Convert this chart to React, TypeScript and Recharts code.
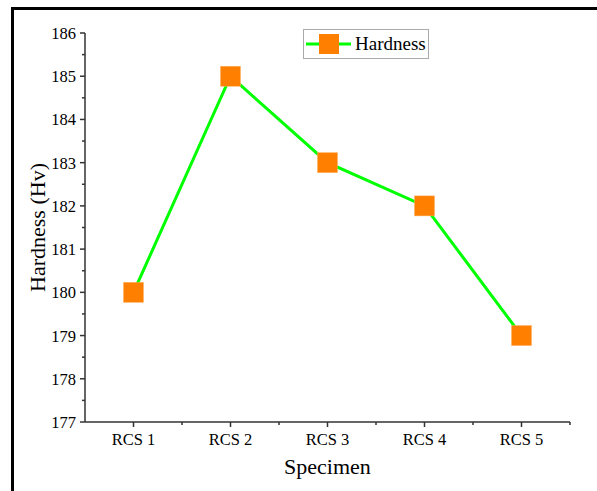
import React from "react";
import { LineChart, Line, XAxis, YAxis } from "recharts";

const specimens = ["RCS 1", "RCS 2", "RCS 3", "RCS 4", "RCS 5"];
const hardness = [180, 185, 183, 182, 179];
const yTicks = [177, 178, 179, 180, 181, 182, 183, 184, 185, 186];

const data = specimens.map((name, i) => ({ name, hardness: hardness[i] }));

const FONT = "Liberation Serif";
const AXIS = "#333";
const GREEN = "#00FF00";
const ORANGE = "#FF7F00";

const PLOT_TOP = 33;
const PLOT_BOTTOM = 422;
const HALF_STEP = (PLOT_BOTTOM - PLOT_TOP) / (yTicks.length - 1) / 2;

function XTick(props: any) {
    const { x, y, payload } = props;
    const half = payload && payload.offset ? payload.offset : 48.5;
    return (
        <g>
            <line x1={x} y1={y} x2={x} y2={y + 5} stroke={AXIS} strokeWidth={1.5} />
            <line x1={x + half} y1={y} x2={x + half} y2={y + 3} stroke={AXIS} strokeWidth={1.5} />
            <text x={x} y={y + 23} textAnchor="middle" style={{ fontFamily: FONT, fontSize: 16.5, fill: "#000" }}>
                {payload.value}
            </text>
        </g>
    );
}

function YTick(props: any) {
    const { x, y, payload } = props;
    return (
        <g>
            <line x1={x - 5} y1={y} x2={x} y2={y} stroke={AXIS} strokeWidth={1.5} />
            {payload.value < 186 && (
                <line x1={x - 3} y1={y - HALF_STEP} x2={x} y2={y - HALF_STEP} stroke={AXIS} strokeWidth={1.5} />
            )}
            <text x={x - 9} y={y + 6} textAnchor="end" style={{ fontFamily: FONT, fontSize: 16.5, fill: "#000" }}>
                {payload.value}
            </text>
        </g>
    );
}

function SquareDot(props: any) {
    const { cx, cy } = props;
    if (cx == null || cy == null) return null;
    return <rect x={cx - 10} y={cy - 10} width={20} height={20} fill={ORANGE} stroke="#FFB060" strokeWidth={0.5} />;
}

function LegendBox() {
    return (
        <div
            style={{
                position: "absolute",
                left: 303,
                top: 29,
                display: "flex",
                alignItems: "center",
                border: "1px solid #aaa",
                width: 126,
                height: 30,
                background: "#fff",
                boxSizing: "border-box",
            }}
        >
            <svg width={50} height={28}>
                <line x1={2} y1={14} x2={47} y2={14} stroke={GREEN} strokeWidth={3} />
                <rect x={15} y={4} width={20} height={20} fill={ORANGE} />
            </svg>
            <span style={{ fontFamily: FONT, fontSize: 19, color: "#000", marginLeft: 1 }}>Hardness</span>
        </div>
    );
}

export default function App() {
    return (
        <div style={{ position: "absolute", left: 0, top: 0, width: 597, height: 491, background: "#fff", overflow: "hidden" }}>
            <div
                style={{
                    position: "absolute",
                    left: 11,
                    top: 7,
                    width: 620,
                    height: 520,
                    borderLeft: "3px solid #000",
                    borderTop: "3px solid #000",
                }}
            />
            <div style={{ position: "absolute", left: 0, top: 0 }}>
                <LineChart
                    width={597}
                    height={491}
                    data={data}
                    margin={{ top: PLOT_TOP, right: 27, left: 25, bottom: 29 }}
                >
                    <XAxis
                        dataKey="name"
                        scale="band"
                        axisLine={{ stroke: AXIS, strokeWidth: 1.5 }}
                        tickLine={false}
                        tickSize={0}
                        tickMargin={0}
                        tick={<XTick />}
                        height={40}
                        interval={0}
                        label={{
                            value: "Specimen",
                            position: "insideBottom",
                            offset: -12,
                            style: { fontFamily: FONT, fontSize: 22, fill: "#000" },
                        }}
                    />
                    <YAxis
                        domain={[177, 186]}
                        ticks={yTicks}
                        width={60}
                        axisLine={{ stroke: AXIS, strokeWidth: 1.5 }}
                        tickLine={false}
                        tickSize={0}
                        tickMargin={0}
                        tick={<YTick />}
                        interval={0}
                        label={{
                            value: "Hardness (Hv)",
                            angle: -90,
                            position: "insideLeft",
                            offset: 12,
                            style: { textAnchor: "middle", fontFamily: FONT, fontSize: 22, fill: "#000" },
                        }}
                    />
                    <Line
                        dataKey="hardness"
                        stroke={GREEN}
                        strokeWidth={3}
                        dot={<SquareDot />}
                        activeDot={false}
                        isAnimationActive={false}
                    />
                </LineChart>
            </div>
            <LegendBox />
        </div>
    );
}
